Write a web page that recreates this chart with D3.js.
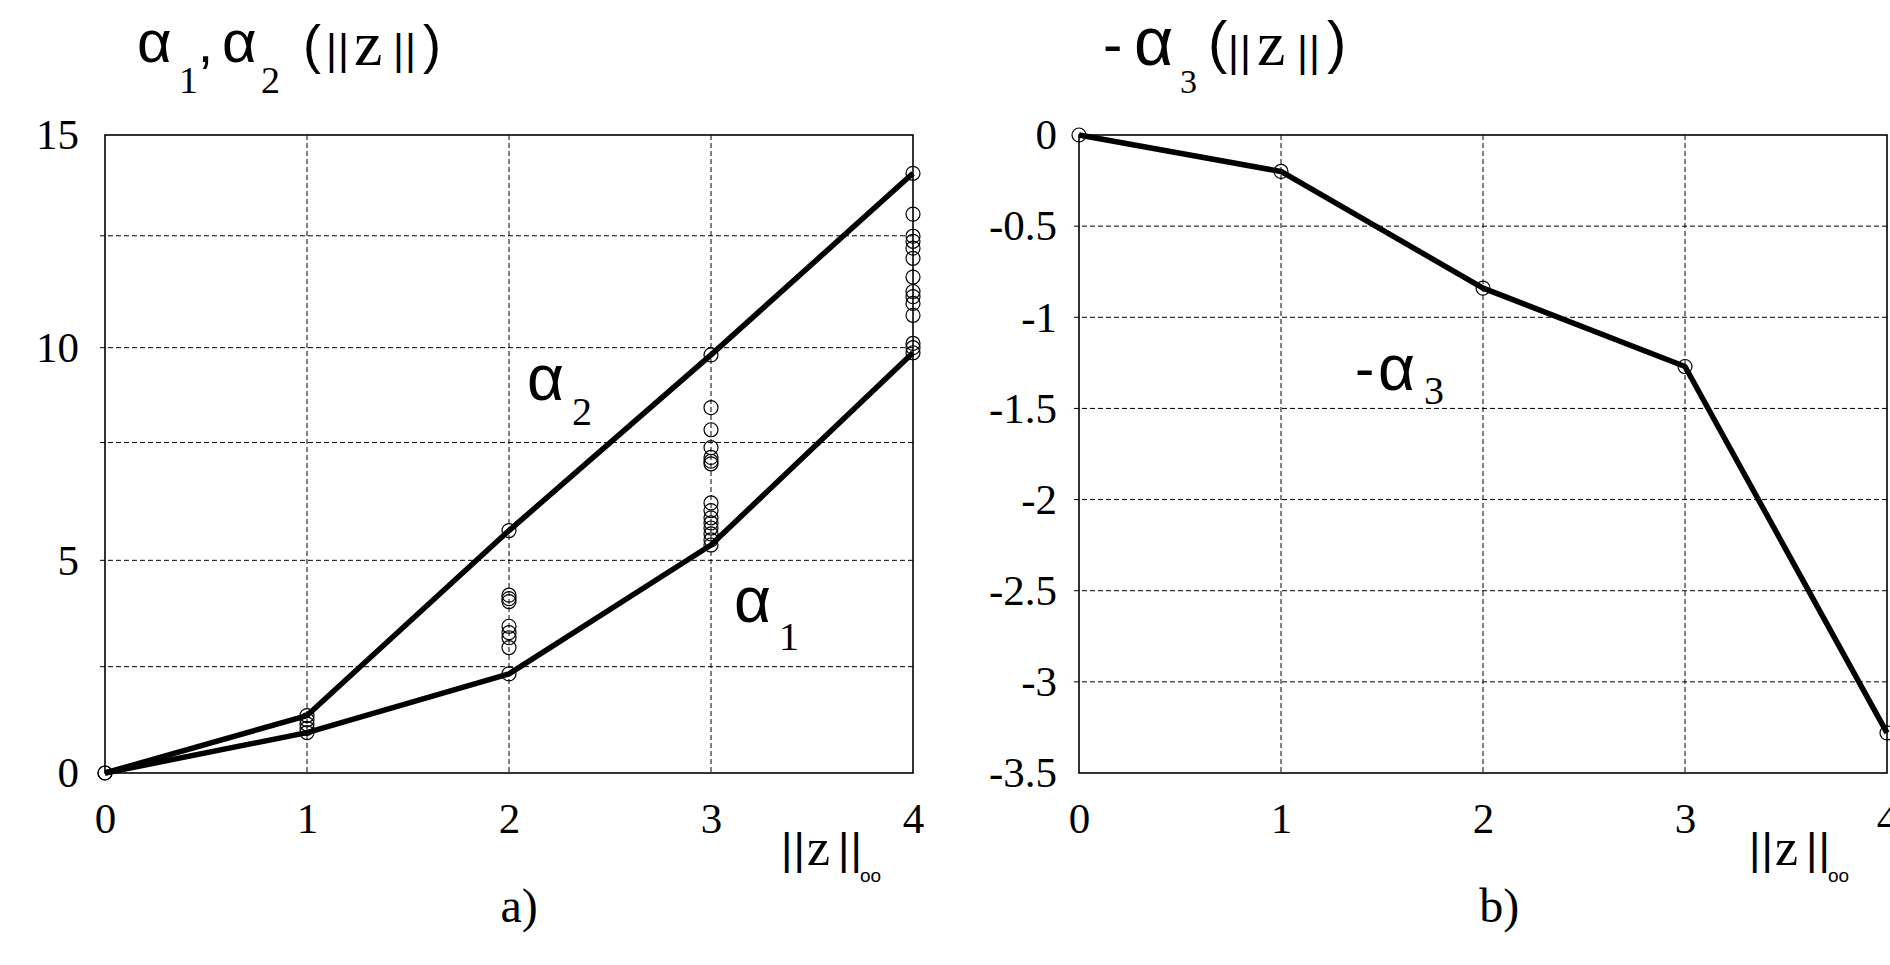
<!DOCTYPE html>
<html>
<head>
<meta charset="utf-8">
<script src="https://d3js.org/d3.v7.min.js"></script>
<style>
  body { margin: 0; background: #fff; }
  svg { display: block; }
</style>
</head>
<body>
<svg width="1890" height="965"></svg>
<script>

// data
var xVals = [0, 1, 2, 3, 4];
var alpha1 = [0, 0.95, 2.33, 5.36, 9.88];
var alpha2 = [0, 1.35, 5.7, 9.83, 14.1];
var negAlpha3 = [0, -0.2, -0.84, -1.27, -3.28];

// sample points (circles) at each x
var samples = [
  [0, 0],
  [1.35, 1.25, 1.15, 1.05, 0.95],
  [5.7, 4.18, 4.1, 4.03, 3.45, 3.3, 3.18, 2.95, 2.33],
  [9.83, 8.59, 8.07, 7.65, 7.42, 7.33, 7.27, 6.35, 6.17, 6.0, 5.88, 5.76, 5.62, 5.48, 5.36],
  [14.1, 13.14, 12.62, 12.5, 12.34, 12.1, 11.66, 11.32, 11.2, 11.04, 10.76, 10.1, 10.0, 9.88]
];

var xTicks = [0, 1, 2, 3, 4];
var leftYTicks = [0, 5, 10, 15];
var leftGridY = [2.5, 5, 7.77, 10, 12.63];
var rightYTicks = [0, -0.5, -1, -1.5, -2, -2.5, -3, -3.5];
var rightGridY = [-0.5, -1, -1.5, -2, -2.5, -3];
var gridX = [1, 2, 3];

var svg = d3.select("svg");
var serif = "'Liberation Serif', 'Times New Roman', serif";
var sans = "'Liberation Sans', Arial, sans-serif";

var xL = d3.scaleLinear().domain([0, 4]).range([105, 913]);
var yL = d3.scaleLinear().domain([0, 15]).range([773, 135]);
var xR = d3.scaleLinear().domain([0, 4]).range([1079, 1887]);
var yR = d3.scaleLinear().domain([-3.5, 0]).range([773, 135]);

function grid(x, y, gy) {
  var g = svg.append("g")
    .attr("stroke", "#000")
    .attr("stroke-width", 1)
    .attr("stroke-dasharray", "5,3");
  g.selectAll(".h").data(gy).enter().append("line")
    .attr("x1", x.range()[0] - 5).attr("x2", x.range()[1])
    .attr("y1", function (d) { return y(d); })
    .attr("y2", function (d) { return y(d); });
  g.selectAll(".v").data(gridX).enter().append("line")
    .attr("x1", function (d) { return x(d); })
    .attr("x2", function (d) { return x(d); })
    .attr("y1", y.range()[1]).attr("y2", y.range()[0]);
  // frame
  svg.append("rect")
    .attr("x", x.range()[0]).attr("y", y.range()[1])
    .attr("width", x.range()[1] - x.range()[0])
    .attr("height", y.range()[0] - y.range()[1])
    .attr("fill", "none").attr("stroke", "#000").attr("stroke-width", 1.6);
}

function axes(x, y, yticks, pad) {
  var gx = svg.append("g")
    .attr("transform", "translate(0," + y.range()[0] + ")")
    .call(d3.axisBottom(x).tickValues(xTicks).tickSize(0).tickPadding(29)
      .tickFormat(function (d) { return String(d); }));
  var gy = svg.append("g")
    .attr("transform", "translate(" + x.range()[0] + ",0)")
    .call(d3.axisLeft(y).tickValues(yticks).tickSize(0).tickPadding(pad)
      .tickFormat(function (d) { return String(d); }));
  [gx, gy].forEach(function (g) {
    g.select(".domain").remove();
    g.selectAll("text")
      .attr("fill", "#000")
      .style("font-family", serif)
      .style("font-size", "43px");
  });
}

grid(xL, yL, leftGridY);
grid(xR, yR, rightGridY);
axes(xL, yL, leftYTicks, 26);
axes(xR, yR, rightYTicks, 22);

var lineL = d3.line()
  .x(function (d, i) { return xL(xVals[i]); })
  .y(function (d) { return yL(d); });
var lineR = d3.line()
  .x(function (d, i) { return xR(xVals[i]); })
  .y(function (d) { return yR(d); });

[alpha1, alpha2].forEach(function (s) {
  svg.append("path").datum(s).attr("d", lineL)
    .attr("fill", "none").attr("stroke", "#000")
    .attr("stroke-width", 5.5).attr("stroke-linejoin", "round");
});
svg.append("path").datum(negAlpha3).attr("d", lineR)
  .attr("fill", "none").attr("stroke", "#000")
  .attr("stroke-width", 5.5).attr("stroke-linejoin", "round");

// circles
var pts = [];
samples.forEach(function (arr, i) {
  arr.forEach(function (v) { pts.push([xVals[i], v]); });
});
svg.append("g").selectAll("circle").data(pts).enter().append("circle")
  .attr("cx", function (d) { return xL(d[0]); })
  .attr("cy", function (d) { return yL(d[1]); })
  .attr("r", 7)
  .attr("fill", "none").attr("stroke", "#000").attr("stroke-width", 1.2);

svg.append("g").selectAll("circle").data(negAlpha3).enter().append("circle")
  .attr("cx", function (d, i) { return xR(xVals[i]); })
  .attr("cy", function (d) { return yR(d); })
  .attr("r", 7)
  .attr("fill", "none").attr("stroke", "#000").attr("stroke-width", 1.2);

// text helper: pieces [text, x, y, font, size]
function pieces(list) {
  list.forEach(function (p) {
    svg.append("text")
      .attr("x", p[1]).attr("y", p[2])
      .style("font-family", p[3] === "s" ? sans : serif)
      .style("font-size", p[4] + "px")
      .style("letter-spacing", p[0] === "||" ? "1px" : null)
      .attr("fill", "#000")
      .text(p[0]);
  });
}

// titles
pieces([
  ["α", 137, 62, "s", 60], ["1", 179, 93, "r", 38], [",", 198, 62, "s", 54],
  ["α", 222, 62, "s", 60], ["2", 261, 93, "r", 38],
  ["(", 303, 63, "s", 54], ["||", 326, 64, "s", 42], ["z", 354, 65, "r", 64],
  ["||", 393, 64, "s", 42], [")", 423, 63, "s", 54]
]);
pieces([
  ["-", 1103, 64, "s", 58], ["α", 1134, 65, "s", 68], ["3", 1180, 93, "r", 34],
  ["(", 1208, 62, "s", 58], ["||", 1228, 66, "s", 42], ["z", 1257, 65, "r", 64],
  ["||", 1297, 66, "s", 42], [")", 1327, 62, "s", 58]
]);

// in-plot labels
pieces([
  ["α", 527, 400, "s", 64], ["2", 572, 425, "r", 40],
  ["α", 734, 622, "s", 64], ["1", 779, 650, "r", 40],
  ["-", 1355, 388, "s", 58], ["α", 1378, 390, "s", 64], ["3", 1424, 404, "r", 40]
]);

// x axis titles  ||z||oo
[781, 1749].forEach(function (x0) {
  pieces([
    ["||", x0, 864, "s", 44], ["z", x0 + 26, 865, "r", 52],
    ["||", x0 + 57, 864, "s", 44], ["oo", x0 + 79, 882, "s", 19]
  ]);
});

// panel letters
svg.append("text").attr("x", xL(2.05)).attr("y", 922).attr("text-anchor", "middle")
  .style("font-family", serif).style("font-size", "48px").text("a)");
svg.append("text").attr("x", xR(2.08)).attr("y", 922).attr("text-anchor", "middle")
  .style("font-family", serif).style("font-size", "48px").text("b)");

</script>
</body>
</html>
